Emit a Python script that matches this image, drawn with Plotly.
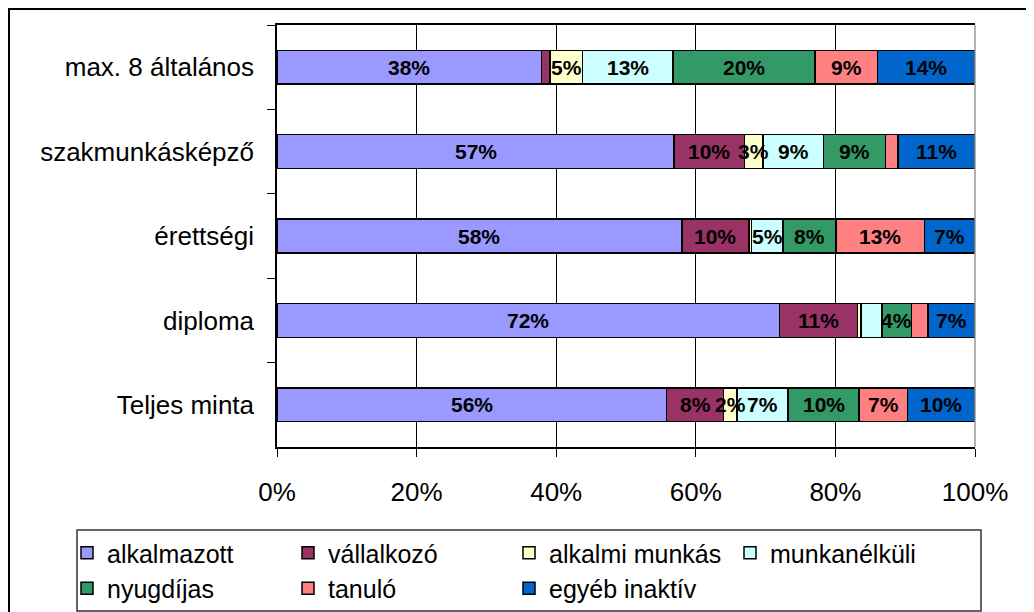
import plotly.graph_objects as go

categories = ["max. 8 általános", "szakmunkásképző", "érettségi", "diploma", "Teljes minta"]
series_names = ["alkalmazott", "vállalkozó", "alkalmi munkás", "munkanélküli", "nyugdíjas", "tanuló", "egyéb inaktív"]

alkalmazott = [37.9, 56.9, 58.0, 72.0, 55.8]
vallalkozo = [1.2, 10.1, 9.6, 11.2, 8.2]
alkalmi = [4.7, 2.6, 0.4, 0.5, 1.9]
munkanelkuli = [12.9, 8.7, 4.5, 3.0, 7.3]
nyugdijas = [20.4, 8.9, 7.6, 4.2, 10.2]
tanulo = [8.9, 1.8, 12.7, 2.4, 6.9]
egyeb = [14.0, 11.0, 7.2, 6.7, 9.7]

# labels shown in the bars ("" = no label)
lab_alkalmazott = ["38%", "57%", "58%", "72%", "56%"]
lab_vallalkozo = ["", "10%", "10%", "11%", "8%"]
lab_alkalmi = ["5%", "3%", "", "", "2%"]
lab_munkanelkuli = ["13%", "9%", "5%", "", "7%"]
lab_nyugdijas = ["20%", "9%", "8%", "4%", "10%"]
lab_tanulo = ["9%", "", "13%", "", "7%"]
lab_egyeb = ["14%", "11%", "7%", "7%", "10%"]

x_ticks = [0, 20, 40, 60, 80, 100]
x_ticklabels = ["0%", "20%", "40%", "60%", "80%", "100%"]

colors = ["#9999FF", "#993366", "#FFFFCC", "#CCFFFF", "#339966", "#FF8080", "#0066CC"]

series = [alkalmazott, vallalkozo, alkalmi, munkanelkuli, nyugdijas, tanulo, egyeb]
labels = [lab_alkalmazott, lab_vallalkozo, lab_alkalmi, lab_munkanelkuli, lab_nyugdijas, lab_tanulo, lab_egyeb]

FONT = "Liberation Sans, Arial, sans-serif"

W, H = 1026, 604
ML, MR, MT, MB = 269, 59, 17, 165
PW, PH = W - ML - MR, H - MT - MB


def px_x(px):
    return (px - ML) / PW


def px_y(py):
    return 1 - (py - MT) / PH


fig = go.Figure()
for name, vals, col in zip(series_names, series, colors):
    fig.add_trace(go.Bar(
        y=categories, x=vals, name=name, orientation="h",
        marker=dict(color=col, line=dict(color="black", width=1.5)),
        hoverinfo="x+name",
    ))

# bar labels centred in each segment, positioned from the data
cum = [0.0] * len(categories)
for vals, labs in zip(series, labels):
    for i, (v, t) in enumerate(zip(vals, labs)):
        if t:
            fig.add_annotation(x=cum[i] + v / 2, y=categories[i], text=t, showarrow=False,
                               xref="x", yref="y",
                               font=dict(family=FONT, size=21, color="black", weight="bold"))
        cum[i] += v

fig.update_layout(
    barmode="stack",
    bargap=0.6,
    width=W, height=H,
    margin=dict(l=ML, r=MR, t=MT, b=MB, autoexpand=False),
    paper_bgcolor="white", plot_bgcolor="white",
    font=dict(family=FONT, color="black"),
    legend=dict(
        orientation="h", xref="paper", yref="paper",
        x=px_x(59), y=px_y(522), xanchor="left", yanchor="top",
        font=dict(family=FONT, size=25, color="black"),
        borderwidth=0, bgcolor="rgba(0,0,0,0)",
        entrywidth=176, entrywidthmode="pixels", itemwidth=30,
        traceorder="normal",
    ),
    xaxis=dict(
        range=[0, 100], tickvals=x_ticks, ticktext=x_ticklabels,
        showgrid=True, gridcolor="black", gridwidth=1,
        showline=True, linecolor="black", linewidth=1.5, mirror=True,
        ticks="outside", ticklen=8, tickcolor="black",
        tickfont=dict(family=FONT, size=26, color="black"),
        ticklabelstandoff=13, zeroline=False, fixedrange=True,
    ),
    yaxis=dict(
        categoryorder="array", categoryarray=categories, autorange="reversed",
        showline=True, linecolor="black", linewidth=1.5,
        ticks="outside", ticklen=8, tickcolor="black", tickson="boundaries",
        tickfont=dict(family=FONT, size=26, color="black"),
        ticklabelstandoff=16, showgrid=False, fixedrange=True,
    ),
)

# right edge of the plot area in grey
fig.add_shape(type="line", xref="paper", yref="paper", x0=1, x1=1, y0=0, y1=1,
              line=dict(color="#999999", width=1.5))
# legend box
fig.add_shape(type="rect", xref="paper", yref="paper",
              x0=px_x(69), x1=px_x(973), y0=px_y(603), y1=px_y(522),
              line=dict(color="#333333", width=1.5), fillcolor="white", layer="below")
# outer chart border (left and top visible)
fig.add_shape(type="rect", xref="paper", yref="paper",
              x0=px_x(1), x1=px_x(W + 20), y0=px_y(H + 20), y1=px_y(1),
              line=dict(color="black", width=2), layer="below")

fig.write_html("out.html")
